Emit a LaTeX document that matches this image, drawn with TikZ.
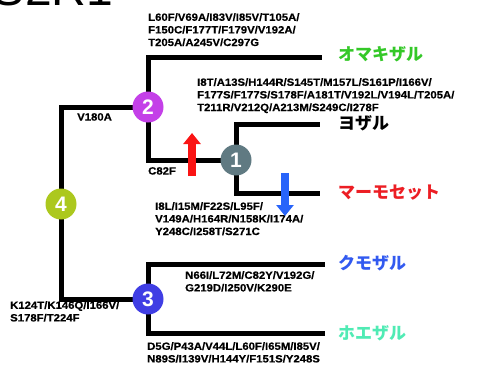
\documentclass[tikz,border=0pt]{standalone}
\usepackage{fontspec}
\setmainfont{Liberation Sans}
\newfontfamily\jp{Noto Sans CJK JP}
\newfontfamily\mutfont[FakeStretch=1.08, UprightFont={* Bold}, FakeBold=0.5]{Liberation Sans}
\usetikzlibrary{arrows.meta}
\definecolor{cfour}{RGB}{172,200,30}
\definecolor{ctwo}{RGB}{196,64,232}
\definecolor{cone}{RGB}{96,122,130}
\definecolor{cthree}{RGB}{64,62,228}
\definecolor{jgreen}{RGB}{52,200,40}
\definecolor{jred}{RGB}{236,30,36}
\definecolor{jblue}{RGB}{50,90,240}
\definecolor{jcyan}{RGB}{80,235,180}
\definecolor{ared}{RGB}{250,20,20}
\definecolor{ablue}{RGB}{40,100,250}
\tikzset{
  branch/.style={line width=5pt, line cap=butt, line join=miter},
  num/.style={circle, minimum size=31pt, inner sep=0pt, text=white, font=\bfseries\fontsize{21}{21}\selectfont},
  mut/.style={anchor=north west, align=left, inner sep=0pt, font=\mutfont\fontsize{10.5}{12.6}\selectfont},
  taxon/.style={anchor=west, inner sep=0pt, font=\jp\bfseries\fontsize{17}{17}\selectfont},
}
\begin{document}
\begin{tikzpicture}[x=1pt,y=-1pt]
\useasboundingbox (0,0) rectangle (479,365);
\clip (0,0) rectangle (479,365);
\node[anchor=base west, inner sep=0pt, font=\fontsize{48}{48}\selectfont] (title) at (-65,5.5) {TAS2R1};
% leaf coordinates
\coordinate (omaki) at (322,57);
\coordinate (yo) at (320,124);
\coordinate (mamo) at (320,193);
\coordinate (kumo) at (325,264);
\coordinate (hoe) at (325,333);
\coordinate (n4) at (61,204);
\coordinate (n2) at (148,107);
\coordinate (n1) at (236,160);
\coordinate (n3) at (148,299);
% branches
\draw[branch] (n2) -| (n4);
\draw[branch] (n4) |- (n3);
\draw[branch] (n2) |- (omaki);
\draw[branch] (n2) |- (n1);
\draw[branch] (n1) |- (yo);
\draw[branch] (n1) |- (mamo);
\draw[branch] (n3) |- (kumo);
\draw[branch] (n3) |- (hoe);
% numbered nodes
\node[num, fill=cfour] (c4) at (n4) {4};
\node[num, fill=ctwo] (c2) at (n2) {2};
\node[num, fill=cone] (c1) at (n1) {1};
\node[num, fill=cthree] (c3) at (n3) {3};
% taxa
\node[taxon, text=jgreen] (t1) at (338,54) {オマキザル};
\node[taxon, text=black] (t2) at (338,123) {ヨザル};
\node[taxon, text=jred] (t3) at (338,193) {マーモセット};
\node[taxon, text=jblue] (t4) at (338,263) {クモザル};
\node[taxon, text=jcyan] (t5) at (338,333) {ホエザル};
% mutation labels
\node[mut] (m1) at (148,13) {L60F/V69A/I83V/I85V/T105A/\\F150C/F177T/F179V/V192A/\\T205A/A245V/C297G};
\node[mut] (m2) at (197,78) {I8T/A13S/H144R/S145T/M157L/S161P/I166V/\\F177S/F177S/S178F/A181T/V192L/V194L/T205A/\\T211R/V212Q/A213M/S249C/I278F};
\node[mut] (m3) at (77,113) {V180A};
\node[mut] (m4) at (148,167) {C82F};
\node[mut] (m5) at (155,202) {I8L/I15M/F22S/L95F/\\V149A/H164R/N158K/I174A/\\Y248C/I258T/S271C};
\node[mut] (m6) at (185,271) {N66I/L72M/C82Y/V192G/\\G219D/I250V/K290E};
\node[mut] (m7) at (10,301) {K124T/K146Q/I166V/\\S178F/T224F};
\node[mut] (m8) at (147,342) {D5G/P43A/V44L/L60F/I65M/I85V/\\N89S/I139V/H144Y/F151S/Y248S};
% arrows
\coordinate (ra) at (192,176);
\coordinate (rb) at (192,133);
\coordinate (ba) at (285,173);
\coordinate (bb) at (285,216);
\draw[ared, line width=8pt, -{Triangle[width=17pt,length=11pt]}] (ra) -- (rb);
\draw[ablue, line width=8pt, -{Triangle[width=17pt,length=11pt]}] (ba) -- (bb);
\end{tikzpicture}
\end{document}
